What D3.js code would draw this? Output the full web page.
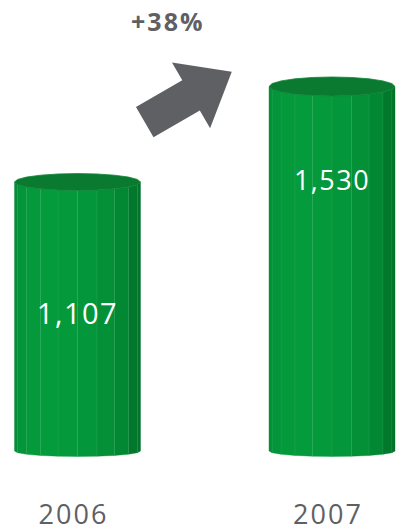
<!DOCTYPE html>
<html>
<head>
<meta charset="utf-8">
<script src="https://cdn.jsdelivr.net/npm/d3@7"></script>
<style>
  html, body { margin: 0; padding: 0; background: #ffffff; }
  svg { display: block; }
</style>
</head>
<body>
<svg id="chart" width="397" height="531"></svg>
<script>
// Annual totals
const years = ["2006", "2007"];
const values = [1107, 1530];
const valueLabels = ["1,107", "1,530"];
// distance of each value label's centre below its column top
const labelDrop = [132, 94];

const W = 397, H = 531;
const svg = d3.select("#chart");

const x = d3.scalePoint().domain(years).range([77.5, 332]);
const y = d3.scaleLinear().domain([0, d3.max(values)]).range([432, 86.5]);

const floorY = 451;        // centre line of the column bases
const rx = 63;             // column half width
const sides = 20;          // facets around each column
const ryAt = cy => 5.5 + (floorY - cy) * 0.011;   // ellipse depth grows with height

const dark = d3.rgb(0, 112, 40), bright = d3.rgb(4, 155, 60);
const shade = d3.interpolateRgb(dark, bright);
const lightAngle = 115 * Math.PI / 180;

function pt(cx, cy, ry, a) { return [cx + rx * Math.cos(a), cy + ry * Math.sin(a)]; }

const cols = svg.append("g").selectAll("g.col")
  .data(years.map((yr, i) => ({ year: yr, value: values[i], label: valueLabels[i], i })))
  .join("g").attr("class", "col");

cols.each(function (d) {
  const g = d3.select(this);
  const cx = x(d.year);
  const topY = y(d.value);
  const ryT = ryAt(topY), ryB = ryAt(floorY);
  const step = 2 * Math.PI / sides;

  // front facets (screen angles 0..180 face the viewer)
  for (let k = 0; k < sides / 2; k++) {
    const a0 = k * step, a1 = (k + 1) * step, mid = (a0 + a1) / 2;
    const lit = Math.max(0, Math.cos(mid - lightAngle));
    const col = shade(0.1 + 0.9 * Math.pow(lit, 0.7));
    const poly = [pt(cx, topY, ryT, a0), pt(cx, topY, ryT, a1),
                  pt(cx, floorY, ryB, a1), pt(cx, floorY, ryB, a0)];
    g.append("path")
      .attr("d", "M" + poly.join("L") + "Z")
      .attr("fill", col)
      .attr("stroke", col)
      .attr("stroke-width", 0.4);
  }
  // faint ridges between facets
  for (let k = 1; k < sides / 2; k++) {
    const a = k * step;
    const p0 = pt(cx, topY, ryT, a), p1 = pt(cx, floorY, ryB, a);
    g.append("line")
      .attr("x1", p0[0]).attr("y1", p0[1]).attr("x2", p1[0]).attr("y2", p1[1])
      .attr("stroke", "rgba(255,255,255,0.1)").attr("stroke-width", 0.7);
  }
  // top cap
  const cap = d3.range(sides).map(k => pt(cx, topY, ryT, k * step));
  g.append("path")
    .attr("d", "M" + cap.join("L") + "Z")
    .attr("fill", "#0a7a30")
    .attr("stroke", "#108436").attr("stroke-width", 0.8);

  // value label
  g.append("text")
    .attr("x", cx)
    .attr("y", topY + labelDrop[d.i])
    .attr("dy", "0.36em")
    .attr("text-anchor", "middle")
    .attr("font-family", "'Open Sans', sans-serif")
    .attr("font-size", d.i === 0 ? 29 : 27)
    .attr("letter-spacing", 1.5)
    .attr("fill", "#ffffff")
    .text(d.label);
});

// category axis labels
svg.append("g").selectAll("text")
  .data(years)
  .join("text")
  .attr("x", d => x(d) - 4)
  .attr("y", 524)
  .attr("text-anchor", "middle")
  .attr("font-family", "'Open Sans', sans-serif")
  .attr("font-size", 27)
  .attr("letter-spacing", 2)
  .attr("fill", "#5f6064")
  .text(d => d);

// growth arrow between the two columns
const xMid = (x(years[0]) + x(years[1])) / 2;
const growth = Math.round((values[1] / values[0] - 1) * 100);
const shaftLen = 53.5, totalLen = 100.6, shaftHalf = 17.5, headHalf = 38;
const arrowPts = [
  [0, -shaftHalf], [shaftLen, -shaftHalf], [shaftLen, -headHalf],
  [totalLen, 0],
  [shaftLen, headHalf], [shaftLen, shaftHalf], [0, shaftHalf]
];
svg.append("path")
  .attr("d", "M" + arrowPts.join("L") + "Z")
  .attr("transform", `translate(${xMid - 60},${y(values[1]) + 35.7}) rotate(-30.1)`)
  .attr("fill", "#5f6064");

svg.append("text")
  .attr("x", xMid - 37)
  .attr("y", 31)
  .attr("text-anchor", "middle")
  .attr("font-family", "'Open Sans', sans-serif")
  .attr("font-weight", 700)
  .attr("font-size", 25)
  .attr("letter-spacing", 2)
  .attr("fill", "#5f6064")
  .text("+" + growth + "%");
</script>
</body>
</html>
